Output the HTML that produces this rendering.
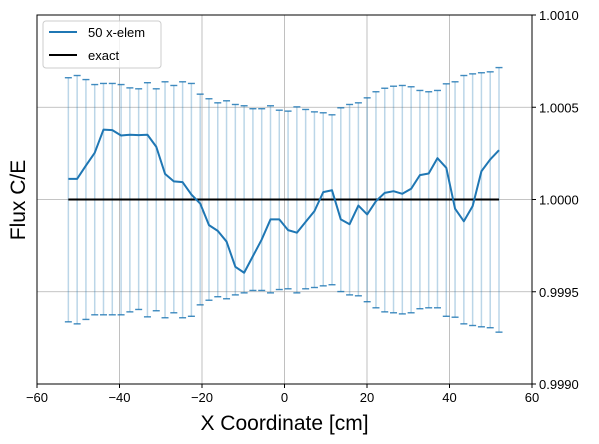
<!DOCTYPE html>
<html><head><meta charset="utf-8"><style>
body{margin:0;background:#fff;}
svg{display:block;font-family:"Liberation Sans","DejaVu Sans",sans-serif;}
</style></head><body>
<svg id="chart" width="599" height="444" viewBox="0 0 599 444">
<rect x="0" y="0" width="599" height="444" fill="#fff"/>
<g id="grid"></g>
<g id="errs"></g>
<g id="lines"></g>
<rect x="37" y="15" width="495" height="369" fill="none" stroke="#000" stroke-width="1"/>
<g id="ticks"></g>
<text x="284.5" y="430" text-anchor="middle" font-size="21">X Coordinate [cm]</text>
<text x="0" y="0" transform="translate(25,200) rotate(-90)" text-anchor="middle" font-size="21">Flux C/E</text>
<g>
<rect x="43" y="21" width="118" height="47" rx="3" fill="#fff" fill-opacity="0.8" stroke="#ccc"/>
<line x1="49" y1="32" x2="77" y2="32" stroke="#1f77b4" stroke-width="2"/>
<text x="88" y="37" font-size="13">50 x-elem</text>
<line x1="49" y1="55" x2="77" y2="55" stroke="#000" stroke-width="2"/>
<text x="88" y="60" font-size="13">exact</text>
</g>
</svg>
<script>
const flux=[1.000112,1.000112,1.000184,1.000253,1.000379,1.000376,1.000347,1.000351,1.000349,1.000351,1.000286,1.000139,1.000098,1.000094,1.000027,0.999978,0.999861,0.999830,0.999772,0.999635,0.999603,0.999693,0.999783,0.999892,0.999892,0.999834,0.999820,0.999879,0.999937,1.000040,1.000050,0.999892,0.999866,0.999967,0.999919,0.999991,1.000036,1.000045,1.000031,1.000058,1.000132,1.000141,1.000224,1.000172,0.999950,0.999882,0.999964,1.000153,1.000217,1.000267];
const upper=[1.000660,1.000672,1.000650,1.000623,1.000629,1.000629,1.000623,1.000605,1.000600,1.000633,1.000600,1.000638,1.000618,1.000638,1.000629,1.000571,1.000546,1.000524,1.000535,1.000515,1.000508,1.000492,1.000492,1.000508,1.000484,1.000479,1.000502,1.000488,1.000475,1.000470,1.000459,1.000497,1.000515,1.000524,1.000551,1.000584,1.000603,1.000614,1.000618,1.000611,1.000591,1.000584,1.000591,1.000627,1.000638,1.000672,1.000681,1.000687,1.000692,1.000715];
const lower=[0.999337,0.999326,0.999350,0.999375,0.999375,0.999375,0.999375,0.999391,0.999404,0.999364,0.999397,0.999359,0.999386,0.999359,0.999367,0.999429,0.999454,0.999473,0.999462,0.999483,0.999494,0.999507,0.999507,0.999494,0.999512,0.999516,0.999494,0.999516,0.999523,0.999532,0.999538,0.999501,0.999483,0.999478,0.999446,0.999413,0.999391,0.999386,0.999380,0.999386,0.999408,0.999413,0.999413,0.999367,0.999362,0.999326,0.999317,0.999310,0.999305,0.999281];
const xStart=-52.4, xEnd=52;
const exactX=[-52.4,52];
const exactY=[1.0,1.0];
const xTicks=[-60,-40,-20,0,20,40,60];
const yTicks=[0.9990,0.9995,1.0000,1.0005,1.0010];
const xGrid=[-40,-20,0,20,40];
const yGrid=[0.9995,1.0000,1.0005];

const L=37,R=532,T=15,B=384;
const X=v=>L+(v+60)/120*(R-L);
const Y=v=>B-(v-0.999)/0.002*(B-T);
const NS="http://www.w3.org/2000/svg";
function mk(tag,parent,attrs){const e=document.createElementNS(NS,tag);for(const k in attrs)e.setAttribute(k,attrs[k]);parent.appendChild(e);return e;}
const g=document.getElementById('grid'),ge=document.getElementById('errs'),gl=document.getElementById('lines'),gt=document.getElementById('ticks');
xGrid.forEach(v=>{const e=mk('line',g,{x1:X(v),x2:X(v),y1:T,y2:B,stroke:'#b0b0b0','stroke-width':0.8});

});
yGrid.forEach(v=>{const e=mk('line',g,{x1:L,x2:R,y1:Y(v),y2:Y(v),stroke:'#b0b0b0','stroke-width':0.8});

});
const n=flux.length;
const xs=flux.map((_,i)=>xStart+(xEnd-xStart)*i/(n-1));
for(let i=0;i<n;i++){
 const x=X(xs[i]);
 const e=mk('line',ge,{x1:x,x2:x,y1:Y(upper[i]),y2:Y(lower[i]),stroke:'#1f77b4','stroke-opacity':0.3,'stroke-width':1.5});
 
 
 [upper[i],lower[i]].forEach(v=>{const c=mk('line',ge,{x1:x-3.5,x2:x+3.5,y1:Y(v),y2:Y(v),stroke:'#1f77b4','stroke-opacity':0.85,'stroke-width':1.4});
 
 });
}
const ex=mk('polyline',gl,{points:exactX.map((x,i)=>X(x)+','+Y(exactY[i])).join(' '),fill:'none',stroke:'#000','stroke-width':2});


const ln=mk('polyline',gl,{points:xs.map((x,i)=>X(x)+','+Y(flux[i])).join(' '),fill:'none',stroke:'#1f77b4','stroke-width':2,'stroke-linejoin':'round'});


xTicks.forEach(v=>{mk('line',gt,{x1:X(v),x2:X(v),y1:B,y2:B+4,stroke:'#000'});
 const t=mk('text',gt,{x:X(v),y:B+18,'text-anchor':'middle','font-size':13});t.textContent=String(v).replace('-','−');
 
 });
yTicks.forEach(v=>{mk('line',gt,{x1:R,x2:R+4,y1:Y(v),y2:Y(v),stroke:'#000'});
 const t=mk('text',gt,{x:R+7,y:Y(v)+5,'font-size':13});t.textContent=v.toFixed(4);
 
 });
</script>
</body></html>
